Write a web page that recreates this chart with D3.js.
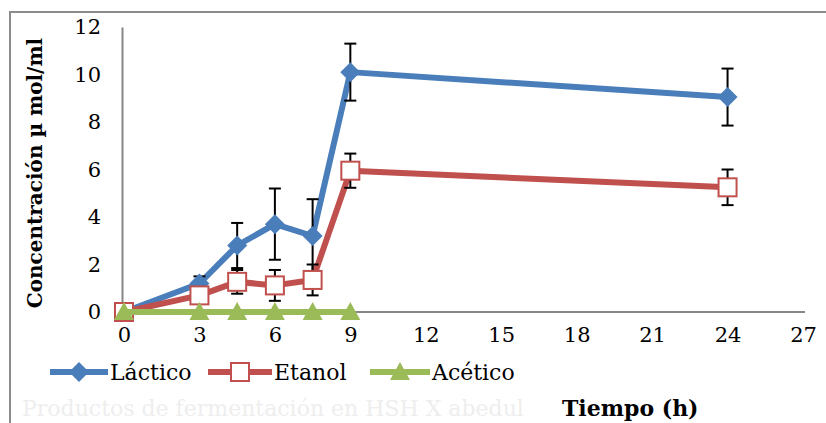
<!DOCTYPE html>
<html>
<head>
<meta charset="utf-8">
<script src="https://cdn.jsdelivr.net/npm/d3@7"></script>
<style>
  body { margin: 0; background: #fff; }
  svg { display: block; }
  text { font-family: "DejaVu Serif", serif; }
</style>
</head>
<body>
<svg width="826" height="423"></svg>
<script>
// time points (h)
const horas = [0, 3, 4.5, 6, 7.5, 9, 24]
const horasAcetico = [0, 3, 4.5, 6, 7.5, 9]

// concentrations
const lactico = [0, 1.2, 2.8, 3.7, 3.2, 10.1, 9.05]
const lacticoErr = [0, 0.3, 0.95, 1.5, 1.55, 1.2, 1.2]
const etanol = [0, 0.7, 1.27, 1.12, 1.35, 5.95, 5.25]
const etanolErr = [0, 0.3, 0.5, 0.65, 0.65, 0.72, 0.75]
const acetico = [0, 0, 0, 0, 0, 0]

const xTicks = [0, 3, 6, 9, 12, 15, 18, 21, 24, 27]
const yTicks = [0, 2, 4, 6, 8, 10, 12]

const svg = d3.select("svg")

// outer frame (only top/left visible)
svg.append("path")
  .attr("d", "M10,423 V12 H826")
  .attr("fill", "none")
  .attr("stroke", "#8c8c8c")
  .attr("stroke-width", 2)

const x = d3.scaleLinear().domain([0, 27]).range([124, 803])
const y = d3.scaleLinear().domain([0, 12]).range([312, 27])

// y axis
const yAxis = svg.append("g")
  .attr("transform", "translate(122,0)")
  .call(d3.axisLeft(y).tickValues(yTicks).tickSize(0).tickPadding(21))
yAxis.select(".domain").attr("stroke", "#868686").attr("stroke-width", 2)
yAxis.selectAll("text")
  .attr("font-size", 21)
  .attr("font-family", "DejaVu Serif")
  .attr("fill", "#000")

// x axis
const xAxis = svg.append("g")
  .attr("transform", "translate(0,312)")
  .call(d3.axisBottom(x).tickValues(xTicks).tickSize(0).tickPadding(15))
xAxis.select(".domain")
  .attr("d", "M122,0H805")
  .attr("stroke", "#868686").attr("stroke-width", 2)
xAxis.selectAll("text")
  .attr("font-size", 21)
  .attr("font-family", "DejaVu Serif")
  .attr("fill", "#000")

const series = [
  { name: "Láctico", xs: horas, ys: lactico, err: lacticoErr, color: "#4a7ebb", marker: "diamond" },
  { name: "Etanol", xs: horas, ys: etanol, err: etanolErr, color: "#c0504d", marker: "square" },
  { name: "Acético", xs: horasAcetico, ys: acetico, err: null, color: "#9bbb59", marker: "triangle" }
]

const line = d3.line().x(d => x(d[0])).y(d => y(d[1]))

function drawMarker(g, type, cx, cy, color) {
  if (type === "diamond") {
    g.append("path")
      .attr("d", `M${cx},${cy - 10}L${cx + 10},${cy}L${cx},${cy + 10}L${cx - 10},${cy}Z`)
      .attr("fill", color)
  } else if (type === "square") {
    g.append("rect")
      .attr("x", cx - 9).attr("y", cy - 9)
      .attr("width", 18).attr("height", 18)
      .attr("fill", "#fff")
      .attr("stroke", color).attr("stroke-width", 2)
  } else {
    g.append("path")
      .attr("d", `M${cx},${cy - 10}L${cx + 10},${cy + 8}L${cx - 10},${cy + 8}Z`)
      .attr("fill", color)
  }
}

const plot = svg.append("g")

series.forEach(s => {
  const pts = s.xs.map((t, i) => [t, s.ys[i]])
  plot.append("path")
    .datum(pts)
    .attr("d", line)
    .attr("fill", "none")
    .attr("stroke", s.color)
    .attr("stroke-width", 6)
    .attr("stroke-linejoin", "round")

  if (s.err) {
    s.xs.forEach((t, i) => {
      if (!s.err[i]) return
      const cx = x(t)
      const y0 = y(s.ys[i] - s.err[i]), y1 = y(s.ys[i] + s.err[i])
      const eb = plot.append("g").attr("stroke", "#000").attr("stroke-width", 2)
      eb.append("line").attr("x1", cx).attr("x2", cx).attr("y1", y0).attr("y2", y1)
      eb.append("line").attr("x1", cx - 6).attr("x2", cx + 6).attr("y1", y0).attr("y2", y0)
      eb.append("line").attr("x1", cx - 6).attr("x2", cx + 6).attr("y1", y1).attr("y2", y1)
    })
  }

  pts.forEach(p => drawMarker(plot, s.marker, x(p[0]), y(p[1]), s.color))
})

// legend
const legendPos = [
  { x1: 50, x2: 108, tx: 110 },
  { x1: 208, x2: 272, tx: 274 },
  { x1: 370, x2: 430, tx: 432 }
]
series.forEach((s, i) => {
  const lp = legendPos[i]
  const g = svg.append("g")
  g.append("line")
    .attr("x1", lp.x1).attr("x2", lp.x2)
    .attr("y1", 372).attr("y2", 372)
    .attr("stroke", s.color).attr("stroke-width", 6)
  drawMarker(g, s.marker, (lp.x1 + lp.x2) / 2, 372, s.color)
  g.append("text")
    .attr("x", lp.tx).attr("y", 380)
    .attr("font-size", 22)
    .attr("fill", "#000")
    .text(s.name)
})

// faded caption
svg.append("text")
  .attr("x", 22).attr("y", 416)
  .attr("font-size", 22)
  .attr("fill", "#eeeeee")
  .text("Productos de fermentación  en HSH X abedul")

// axis titles
svg.append("text")
  .attr("x", 562).attr("y", 416)
  .attr("font-size", 22)
  .attr("font-weight", "bold")
  .attr("fill", "#000")
  .text("Tiempo (h)")

svg.append("text")
  .attr("transform", "translate(42,173) rotate(-90)")
  .attr("text-anchor", "middle")
  .attr("font-size", 20)
  .attr("font-weight", "bold")
  .attr("fill", "#000")
  .text("Concentración µ mol/ml")
</script>
</body>
</html>
